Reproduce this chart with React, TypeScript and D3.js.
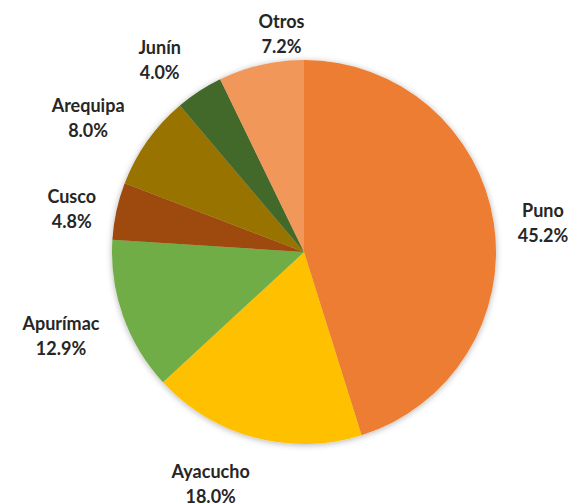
import React from "react";
import * as d3 from "d3";

const categories = ["Puno", "Ayacucho", "Apurímac", "Cusco", "Arequipa", "Junín", "Otros"];
const values = [45.2, 18.0, 12.9, 4.8, 8.0, 4.0, 7.2];
const colors = ["#ED7D31", "#FFC000", "#70AD47", "#9E480E", "#997300", "#43682B", "#F1975A"];

// layout-only nudges for label placement (Excel-like outside-end labels)
const labelNudges: [number, number][] = [
  [3, 7],
  [-28, 2],
  [-4, 5],
  [1, 8],
  [-9, 4],
  [-14, 7],
  [31, 14],
];

const W = 570;
const H = 503;
const cx = 304;
const cy = 252;
const R = 192;
const GAP = 22;
const FONT = 18;
const LINE = 25;

export default function App() {
  const pie = d3.pie<number>().sort(null).value((d) => d);
  const arcs = pie(values);
  const arcGen = d3.arc<d3.PieArcDatum<number>>().innerRadius(0).outerRadius(R);

  const labels = arcs.map((a, i) => {
    const mid = (a.startAngle + a.endAngle) / 2;
    const ux = Math.sin(mid);
    const uy = -Math.cos(mid);
    const w = Math.max(categories[i].length, 5) * FONT * 0.55;
    const h = 48;
    const px = (R + GAP) * ux + (ux * w) / 2;
    const py = (R + GAP) * uy + (uy * h) / 2;
    return { x: cx + px + labelNudges[i][0], y: cy + py + labelNudges[i][1] };
  });

  return (
    <svg width={W} height={H} style={{ position: "absolute", left: 0, top: 0 }}>
      <defs>
        <filter id="sh" x="-20%" y="-20%" width="140%" height="140%">
          <feDropShadow dx="0" dy="1" stdDeviation="3" floodColor="#000" floodOpacity="0.3" />
        </filter>
      </defs>
      <rect width={W} height={H} fill="#fff" />
      <g transform={`translate(${cx},${cy})`} filter="url(#sh)">
        {arcs.map((a, i) => (
          <path key={i} d={arcGen(a) || ""} fill={colors[i]} />
        ))}
      </g>
      {labels.map((p, i) => (
        <text
          key={i}
          textAnchor="middle"
          fontFamily="Lato, 'Open Sans', sans-serif"
          fontWeight="bold"
          fontSize={FONT}
          fill="#262626"
        >
          <tspan x={p.x} y={p.y - 6}>{categories[i]}</tspan>
          <tspan x={p.x} y={p.y - 6 + LINE}>{values[i].toFixed(1)}%</tspan>
        </text>
      ))}
    </svg>
  );
}
